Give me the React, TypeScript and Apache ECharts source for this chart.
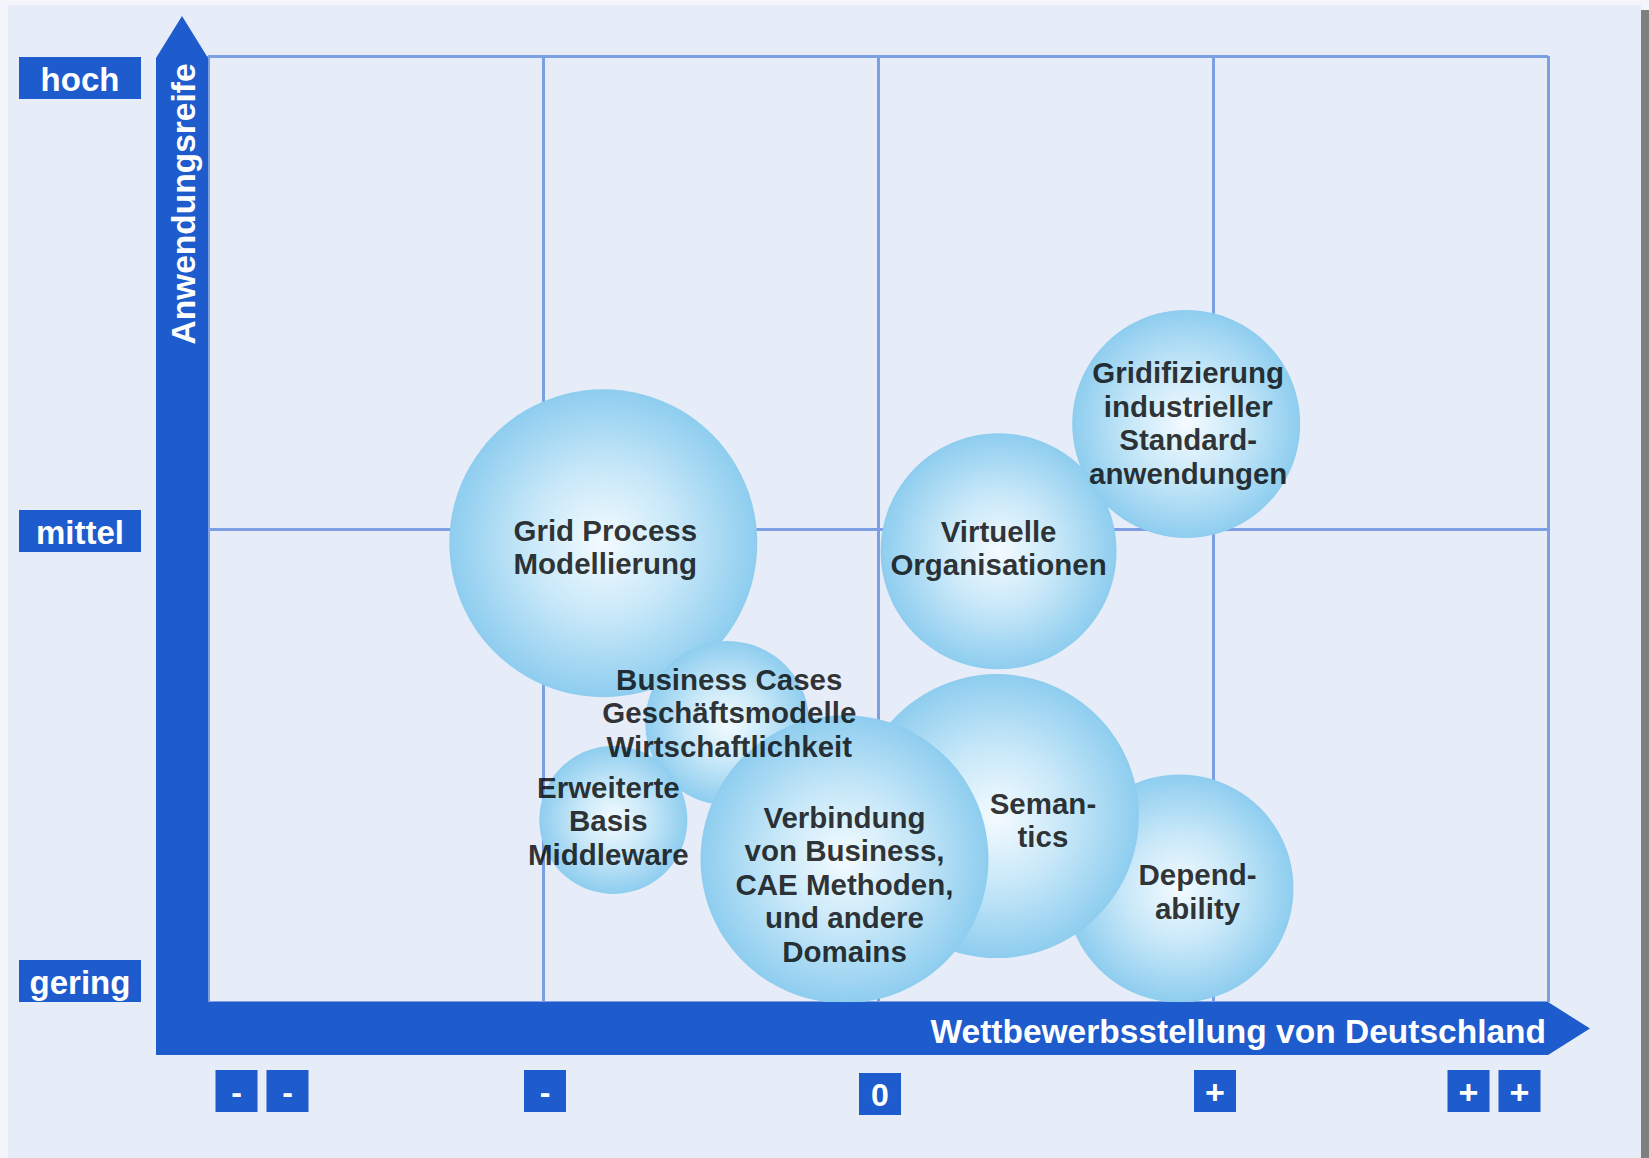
import React, { useEffect, useRef } from "react";
import * as echarts from "echarts";

// ---- data ----
const bubbleNames = [
  "Grid Process\nModellierung",
  "Business Cases\nGeschäftsmodelle\nWirtschaftlichkeit",
  "Erweiterte\nBasis\nMiddleware",
  "Depend-\nability",
  "Seman-\ntics",
  "Verbindung\nvon Business,\nCAE Methoden,\nund andere\nDomains",
  "Virtuelle\nOrganisationen",
  "Gridifizierung\nindustrieller\nStandard-\nanwendungen",
];
// x: Wettbewerbsstellung (0 = "- -", 4 = "+ +"), y: Anwendungsreife (0 = gering, 2 = hoch)
const bubbleX = [1.18, 1.55, 1.21, 2.9, 2.355, 1.9, 2.36, 2.92];
const bubbleY = [0.97, 0.59, 0.385, 0.24, 0.393, 0.302, 0.953, 1.222];
const bubbleSize = [308, 164, 148, 228, 284, 288, 236, 228];

const xTickLabels = ["- -", "-", "0", "+", "+ +"];
const yTickLabels = ["gering", "mittel", "hoch"];
const xAxisTitle = "Wettbewerbsstellung von Deutschland";
const yAxisTitle = "Anwendungsreife";

// ---- styling ----
const labelOffsets: number[][] = [
  [2, 4],
  [2, -10],
  [-5, 1],
  [18, 3],
  [46, 4],
  [0, 25],
  [0, -3],
  [2, -1],
];
const BLUE = "#1e5bcd";
const GRIDLINE = "#7c9ee3";
const FONT = "'Liberation Sans', Arial, Helvetica, sans-serif";

export default function App() {
  const ref = useRef<HTMLDivElement>(null);

  useEffect(() => {
    document.body.style.margin = "0";
    document.body.style.overflow = "hidden";
    const chart = echarts.init(ref.current!, null, { renderer: "svg" });

    const bubbleData = bubbleNames.map((n, i) => ({
      name: n,
      value: [bubbleX[i], bubbleY[i]],
      symbolSize: bubbleSize[i],
    }));
    const labelData = bubbleNames.map((n, i) => ({
      name: n,
      value: [bubbleX[i], bubbleY[i]],
      label: { offset: labelOffsets[i] },
    }));

    chart.setOption({
      animation: false,
      backgroundColor: "transparent",
      grid: { left: 208, right: 101, top: 56, bottom: 156 },
      xAxis: {
        type: "value",
        min: 0,
        max: 4,
        interval: 1,
        axisLine: { show: false },
        axisTick: { show: false },
        axisLabel: { show: false },
        splitLine: { show: true, lineStyle: { color: GRIDLINE, width: 3 } },
      },
      yAxis: {
        type: "value",
        min: 0,
        max: 2,
        interval: 1,
        axisLine: { show: false },
        axisTick: { show: false },
        axisLabel: { show: false },
        splitLine: { show: true, lineStyle: { color: GRIDLINE, width: 3 } },
      },
      series: [
        {
          type: "scatter",
          z: 2,
          silent: true,
          data: bubbleData,
          itemStyle: {
            opacity: 1,
            color: {
              type: "radial",
              x: 0.5,
              y: 0.5,
              r: 0.5,
              colorStops: [
                { offset: 0, color: "#f4fbff" },
                { offset: 0.5, color: "#c6e7f8" },
                { offset: 1, color: "#8ecdef" },
              ],
            },
          },
        },
        {
          type: "scatter",
          z: 5,
          silent: true,
          symbolSize: 1,
          itemStyle: { color: "rgba(0,0,0,0)" },
          data: labelData,
          label: {
            show: true,
            position: "inside",
            formatter: (p: any) => p.name,
            color: "#000",
            textBorderWidth: 0,
            fontFamily: FONT,
            fontWeight: "bold",
            fontSize: 29.5,
            lineHeight: 33.5,
            align: "center",
          },
        },
      ],
    });

    const px = (x: number) => chart.convertToPixel({ gridIndex: 0 }, [x, 0])[0];
    const py = (y: number) => chart.convertToPixel({ gridIndex: 0 }, [0, y])[1];
    const x0 = px(0);
    const x4 = px(4);
    const y0 = py(0);
    const y2 = py(2);
    const T = 52;

    const graphics: any[] = [];
    // axis arrows
    graphics.push({
      type: "polygon",
      z: 100,
      silent: true,
      shape: {
        points: [
          [x0 - T, y2 + 2],
          [x0 - T / 2, y2 - 40],
          [x0, y2 + 2],
          [x0, y0],
          [x4, y0],
          [x4 + 42, y0 + (T + 1) / 2],
          [x4, y0 + T + 1],
          [x0 - T, y0 + T + 1],
        ],
      },
      style: { fill: BLUE },
    });
    graphics.push({
      type: "text",
      z: 101,
      x: x0 - T / 2 + 1,
      y: y2 + 148,
      rotation: Math.PI / 2,
      style: {
        text: yAxisTitle,
        fill: "#fff",
        font: `bold 33.5px ${FONT}`,
        align: "center",
        verticalAlign: "middle",
      },
    });
    graphics.push({
      type: "text",
      z: 101,
      x: x4 - 2,
      y: y0 + 29,
      style: {
        text: xAxisTitle,
        fill: "#fff",
        font: `bold 33.5px ${FONT}`,
        align: "right",
        verticalAlign: "middle",
      },
    });

    // y tick labels
    yTickLabels.forEach((t, i) => {
      const yc = py(i);
      const h = 42;
      let top = yc - h / 2 + 2;
      if (i === 0) top = yc - h;
      if (i === yTickLabels.length - 1) top = yc + 1;
      graphics.push({
        type: "rect",
        z: 100,
        shape: { x: 19, y: top, width: 122, height: h },
        style: { fill: BLUE },
      });
      graphics.push({
        type: "text",
        z: 101,
        x: 80,
        y: top + h / 2 + 1,
        style: {
          text: t,
          fill: "#fff",
          font: `bold 33px ${FONT}`,
          align: "center",
          verticalAlign: "middle",
        },
      });
    });

    // x tick labels
    xTickLabels.forEach((t, i) => {
      const parts = t.split(" ");
      const w = 42;
      const gap = 9;
      let cx = px(i) + 2;
      if (i === 0) cx = px(i) + 54;
      if (i === xTickLabels.length - 1) cx = px(i) - 54;
      const total = parts.length * w + (parts.length - 1) * gap;
      const top = t === "0" ? y0 + 71 : y0 + 68;
      parts.forEach((p, k) => {
        const bx = cx - total / 2 + k * (w + gap);
        graphics.push({
          type: "rect",
          z: 100,
          shape: { x: bx, y: top, width: w, height: 42 },
          style: { fill: BLUE },
        });
        graphics.push({
          type: "text",
          z: 101,
          x: bx + w / 2,
          y: top + 22,
          style: {
            text: p,
            fill: "#fff",
            font: `bold ${p === "+" ? 34 : 32}px ${FONT}`,
            align: "center",
            verticalAlign: "middle",
          },
        });
      });
    });

    chart.setOption({ graphic: graphics });

    return () => chart.dispose();
  }, []);

  return (
    <div style={{ position: "absolute", left: 0, top: 0, width: 1649, height: 1158, background: "#f3f5fb", overflow: "hidden" }}>
      <div style={{ position: "absolute", left: 8, top: 5, width: 1633, height: 1153, background: "#e7edf8" }} />
      <div style={{ position: "absolute", left: 1641, top: 10, width: 8, height: 1148, background: "#7f7f7f" }} />
      <div ref={ref} style={{ position: "absolute", left: 0, top: 0, width: 1649, height: 1158 }} />
    </div>
  );
}
